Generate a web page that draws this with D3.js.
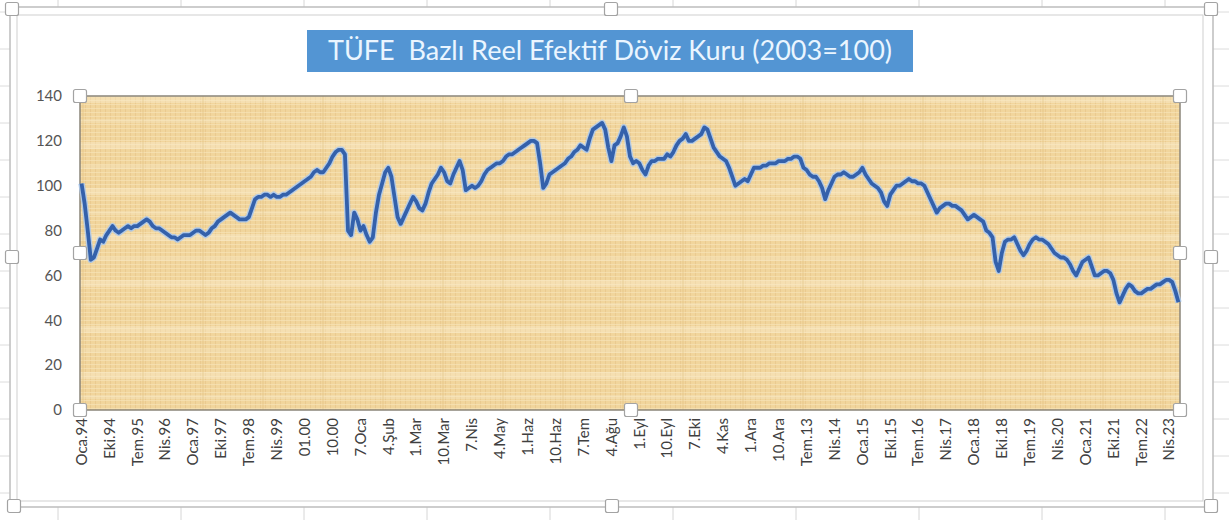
<!doctype html>
<html>
<head>
<meta charset="utf-8">
<script src="https://cdnjs.cloudflare.com/ajax/libs/d3/7.8.5/d3.min.js"></script>
<style>
  body { margin: 0; background: #fff; }
  svg { display: block; font-family: Lato, "Open Sans", sans-serif; }
</style>
</head>
<body>
<svg width="1229" height="520"></svg>
<script>
var title = "TÜFE  Bazlı Reel Efektif Döviz Kuru (2003=100)";

// monthly index, Oca.1994 .. Tem.2023
var reer = [
  101, 92, 80, 67, 68, 72, 76, 75, 78, 80, 82, 80,          // 1994
  79, 80, 81, 82, 81, 82, 82, 83, 84, 85, 84, 82,           // 1995
  81, 81, 80, 79, 78, 77, 77, 76, 77, 78, 78, 78,           // 1996
  79, 80, 80, 79, 78, 79, 81, 82, 84, 85, 86, 87,           // 1997
  88, 87, 86, 85, 85, 85, 86, 90, 94, 95, 95, 96,           // 1998
  96, 95, 96, 95, 95, 96, 96, 97, 98, 99, 100, 101,         // 1999
  102, 103, 104, 106, 107, 106, 106, 108, 110, 113, 115, 116, // 2000
  116, 114, 80, 78, 88, 85, 80, 82, 78, 75, 77, 88,         // 2001
  96, 101, 106, 108, 104, 95, 86, 83, 86, 89, 92, 95,       // 2002
  93, 90, 89, 92, 97, 101, 103, 105, 108, 106, 102, 101,    // 2003
  105, 108, 111, 107, 98, 99, 100, 99, 100, 102, 105, 107,  // 2004
  108, 109, 110, 110, 111, 113, 114, 114, 115, 116, 117, 118, // 2005
  119, 120, 120, 119, 110, 99, 101, 105, 106, 107, 108, 109, // 2006
  110, 112, 113, 115, 116, 118, 117, 116, 121, 125, 126, 127, // 2007
  128, 125, 117, 111, 118, 119, 122, 126, 122, 113, 110, 111, // 2008
  110, 107, 105, 109, 111, 111, 112, 112, 112, 114, 113, 115, // 2009
  118, 120, 121, 123, 120, 120, 121, 122, 123, 126, 125, 121, // 2010
  117, 115, 113, 112, 111, 108, 104, 100, 101, 102, 103, 102, // 2011
  105, 108, 108, 108, 109, 109, 110, 110, 110, 111, 111, 111, // 2012
  112, 112, 113, 113, 112, 108, 107, 105, 104, 104, 102, 99,  // 2013
  94, 98, 101, 104, 105, 105, 106, 105, 104, 104, 105, 106,   // 2014
  108, 105, 103, 101, 100, 99, 97, 93, 91, 96, 98, 100,       // 2015
  100, 101, 102, 103, 102, 102, 101, 101, 100, 97, 94, 91,    // 2016
  88, 90, 91, 92, 92, 91, 91, 90, 89, 87, 85, 86,             // 2017
  87, 86, 85, 84, 80, 79, 77, 66, 62, 70, 75, 76,             // 2018
  76, 77, 74, 71, 69, 71, 74, 76, 77, 76, 76, 75,             // 2019
  74, 72, 70, 69, 68, 68, 67, 65, 62, 60, 63, 66,             // 2020
  67, 68, 64, 60, 60, 61, 62, 62, 61, 58, 52, 48,             // 2021
  51, 54, 56, 55, 53, 52, 52, 53, 54, 54, 55, 56,             // 2022
  56, 57, 58, 58, 57, 53, 48                                  // 2023
];

// category labels shown every 9 months (as Excel printed them)
var xLabels = ["Oca.94", "Eki.94", "Tem.95", "Nis.96", "Oca.97", "Eki.97", "Tem.98", "Nis.99",
  "01.00", "10.00", "7.Oca", "4.Şub", "1.Mar", "10.Mar", "7.Nis", "4.May", "1.Haz", "10.Haz",
  "7.Tem", "4.Ağu", "1.Eyl", "10.Eyl", "7.Eki", "4.Kas", "1.Ara", "10.Ara", "Tem.13", "Nis.14",
  "Oca.15", "Eki.15", "Tem.16", "Nis.17", "Oca.18", "Eki.18", "Tem.19", "Nis.20", "Oca.21",
  "Eki.21", "Tem.22", "Nis.23"];
var labelStep = 9;
var yTicks = [0, 20, 40, 60, 80, 100, 120, 140];

var svg = d3.select("svg");
var W = 1229, H = 520;
var plot = {x0: 80, x1: 1180, y0: 96, y1: 410};

// spreadsheet behind the chart
var sheet = svg.append("g");
sheet.append("rect").attr("width", W).attr("height", H).attr("fill", "#fff");
sheet.selectAll("line.v").data(d3.range(58, W, 123)).enter().append("line")
  .attr("x1", d => d).attr("x2", d => d).attr("y1", 0).attr("y2", H)
  .attr("stroke", "#d6d6d6");
sheet.selectAll("line.h").data(d3.range(12, H, 37)).enter().append("line")
  .attr("x1", 0).attr("x2", W).attr("y1", d => d).attr("y2", d => d)
  .attr("stroke", "#dcdcdc");

// chart area (selected) with double frame
svg.append("rect").attr("x", 10).attr("y", 7).attr("width", 1203).attr("height", 500)
  .attr("fill", "#fff").attr("stroke", "#bdbdbd").attr("stroke-width", 1.5);
svg.append("rect").attr("x", 17).attr("y", 15).attr("width", 1186).attr("height", 486)
  .attr("fill", "#fff").attr("stroke", "#cfcfcf").attr("stroke-width", 1);

// papyrus-like fill
var defs = svg.append("defs");
var pat = defs.append("pattern").attr("id", "papyrus")
  .attr("patternUnits", "userSpaceOnUse").attr("width", 5).attr("height", 4);
pat.append("rect").attr("width", 5).attr("height", 4).attr("fill", "#f1d59c");
pat.append("line").attr("x1", 0.5).attr("x2", 0.5).attr("y1", 0).attr("y2", 4)
  .attr("stroke", "#e3c083").attr("stroke-opacity", 0.5);
pat.append("line").attr("x1", 0).attr("x2", 5).attr("y1", 0.5).attr("y2", 0.5)
  .attr("stroke", "#f8e6bd").attr("stroke-opacity", 0.6);

var band = defs.append("pattern").attr("id", "bands")
  .attr("patternUnits", "userSpaceOnUse").attr("width", 60).attr("height", 46);
band.append("rect").attr("y", 4).attr("width", 60).attr("height", 7).attr("fill", "#fbeed0").attr("opacity", 0.4);
band.append("rect").attr("y", 27).attr("width", 60).attr("height", 4).attr("fill", "#fbeed0").attr("opacity", 0.3);
band.append("rect").attr("x", 22).attr("width", 2).attr("height", 46).attr("fill", "#d9b36c").attr("opacity", 0.2);

svg.append("rect").attr("x", plot.x0).attr("y", plot.y0)
  .attr("width", plot.x1 - plot.x0).attr("height", plot.y1 - plot.y0)
  .attr("fill", "url(#papyrus)");
svg.append("rect").attr("x", plot.x0).attr("y", plot.y0)
  .attr("width", plot.x1 - plot.x0).attr("height", plot.y1 - plot.y0)
  .attr("fill", "url(#bands)");
svg.append("rect").attr("x", plot.x0).attr("y", plot.y0)
  .attr("width", plot.x1 - plot.x0).attr("height", plot.y1 - plot.y0)
  .attr("fill", "none").attr("stroke", "#8a857a").attr("stroke-width", 1.5);

// scales
var x = d3.scaleBand().domain(d3.range(reer.length)).range([plot.x0, plot.x1]);
var y = d3.scaleLinear().domain([0, 140]).range([plot.y1, plot.y0]);

// axes
var yAxis = svg.append("g").attr("transform", "translate(" + plot.x0 + ",0)")
  .call(d3.axisLeft(y).tickValues(yTicks).tickSize(0).tickPadding(18));
yAxis.select(".domain").remove();
yAxis.selectAll("text").attr("font-size", 15).attr("fill", "#555")
  .attr("font-family", "Lato, 'Open Sans', sans-serif");

var xAxis = svg.append("g").attr("transform", "translate(0," + plot.y1 + ")")
  .call(d3.axisBottom(x)
    .tickValues(d3.range(0, reer.length, labelStep).filter(i => i / labelStep < xLabels.length))
    .tickFormat(i => xLabels[i / labelStep]).tickSize(0));
xAxis.select(".domain").remove();
xAxis.selectAll("text")
  .attr("transform", "rotate(-90)")
  .attr("x", -8).attr("y", 0).attr("dy", "0.35em")
  .attr("text-anchor", "end")
  .attr("font-size", 15).attr("fill", "#404040")
  .attr("font-family", "Lato, 'Open Sans', sans-serif");

// series line with a soft glow
var line = d3.line()
  .x((d, i) => x(i) + x.bandwidth() / 2)
  .y(d => y(d));
svg.append("path").datum(reer).attr("d", line)
  .attr("fill", "none").attr("stroke", "#a9c8ef").attr("stroke-width", 6.5)
  .attr("stroke-linejoin", "round").attr("stroke-opacity", 0.85);
svg.append("path").datum(reer).attr("d", line)
  .attr("fill", "none").attr("stroke", "#3461ab").attr("stroke-width", 3.8)
  .attr("stroke-linejoin", "round");

// title box
svg.append("rect").attr("x", 307).attr("y", 30).attr("width", 606).attr("height", 42)
  .attr("fill", "#5395d3");
svg.append("text").attr("x", 610).attr("y", 51).attr("dy", "0.35em")
  .attr("text-anchor", "middle").attr("font-size", 27).attr("fill", "#eaf5ff")
  .style("white-space", "pre")
  .text(title);

// selection handles
function handles(pts) {
  svg.append("g").selectAll("rect").data(pts).enter().append("rect")
    .attr("x", d => d[0] - 6.5).attr("y", d => d[1] - 6.5)
    .attr("width", 13).attr("height", 13).attr("rx", 2)
    .attr("fill", "#fff").attr("stroke", "#a3a3a3").attr("stroke-width", 1.2);
}
var mx = (plot.x0 + plot.x1) / 2 + 1, my = (plot.y0 + plot.y1) / 2;
handles([[plot.x0, plot.y0], [mx, plot.y0], [plot.x1, plot.y0],
  [plot.x0, my], [plot.x1, my],
  [plot.x0, plot.y1], [mx, plot.y1], [plot.x1, plot.y1]]);
handles([[12, 9], [611, 9], [1211, 9], [12, 257], [1211, 257], [14, 506], [612, 506], [1211, 506]]);
</script>
</body>
</html>
